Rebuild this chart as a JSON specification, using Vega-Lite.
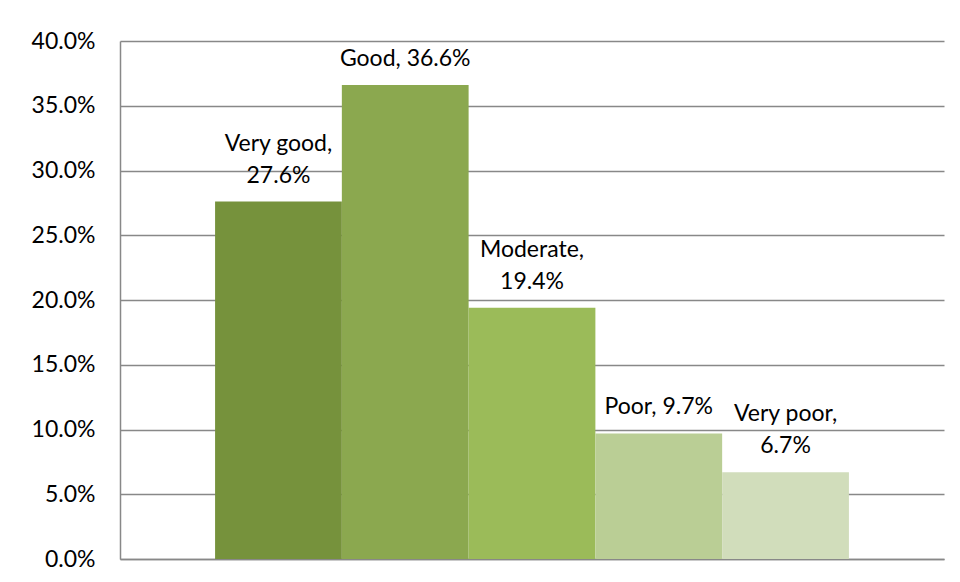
{
  "$schema": "https://vega.github.io/schema/vega-lite/v6.json",
  "width": 824,
  "height": 518,
  "autosize": {"type": "none"},
  "padding": {"left": 120, "top": 41, "right": 16, "bottom": 23},
  "background": "white",
  "config": {"view": {"stroke": null}, "font": "Lato"},
  "data": {
    "values": [
      {"rating": "Very good", "share": 0.276, "line1": "Very good,", "line2": "27.6%", "color": "#76923C"},
      {"rating": "Good", "share": 0.366, "line1": "", "line2": "Good, 36.6%", "color": "#8BA84F"},
      {"rating": "Moderate", "share": 0.194, "line1": "Moderate,", "line2": "19.4%", "color": "#9BBB59"},
      {"rating": "Poor", "share": 0.097, "line1": "", "line2": "Poor, 9.7%", "color": "#BACE95"},
      {"rating": "Very poor", "share": 0.067, "line1": "Very poor,", "line2": "6.7%", "color": "#D1DDBB"}
    ]
  },
  "encoding": {
    "x": {
      "field": "rating",
      "type": "nominal",
      "sort": null,
      "scale": {"paddingInner": 0, "paddingOuter": 0.75},
      "axis": {"title": null, "labels": false, "ticks": false, "domain": true, "domainColor": "#888888", "domainWidth": 1.5}
    },
    "y": {
      "field": "share",
      "type": "quantitative",
      "scale": {"domain": [0, 0.4], "nice": false},
      "axis": {
        "title": null,
        "format": ".1%",
        "values": [0, 0.05, 0.1, 0.15, 0.2, 0.25, 0.3, 0.35, 0.4],
        "ticks": false,
        "labelPadding": 25,
        "labelFontSize": 23,
        "labelColor": "#000000",
        "labelFont": "Lato",
        "grid": true,
        "gridColor": "#888888",
        "gridWidth": 1.5,
        "domain": true,
        "domainColor": "#888888",
        "domainWidth": 1.5
      }
    }
  },
  "layer": [
    {
      "mark": {"type": "bar"},
      "encoding": {"color": {"field": "color", "type": "nominal", "scale": null, "legend": null}}
    },
    {
      "mark": {"type": "text", "baseline": "alphabetic", "dy": -19, "fontSize": 23, "color": "#000000", "font": "Lato"},
      "encoding": {"text": {"field": "line2", "type": "nominal"}}
    },
    {
      "mark": {"type": "text", "baseline": "alphabetic", "dy": -51, "fontSize": 23, "color": "#000000", "font": "Lato"},
      "encoding": {"text": {"field": "line1", "type": "nominal"}}
    }
  ]
}
